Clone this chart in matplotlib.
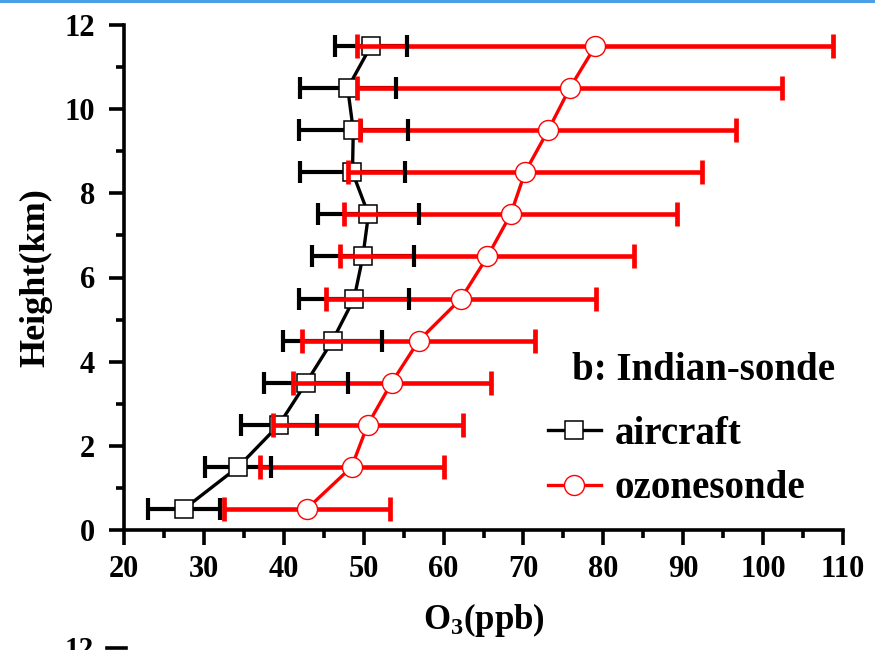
import numpy as np
import matplotlib
matplotlib.use('Agg')
import matplotlib.pyplot as plt
from matplotlib.lines import Line2D
from matplotlib.patches import Rectangle

plt.rcParams['font.family'] = ['Liberation Serif', 'DejaVu Serif']
plt.rcParams['font.weight'] = 'bold'
plt.rcParams['mathtext.fontset'] = 'custom'
plt.rcParams['mathtext.rm'] = 'Liberation Serif:bold'
plt.rcParams['mathtext.bf'] = 'Liberation Serif:bold'

# mean O3 profiles (ppb) with std, per 1 km layer
height = [0.5, 1.5, 2.5, 3.5, 4.5, 5.5, 6.5, 7.5, 8.5, 9.5, 10.5, 11.5]
aircraft = [27.5, 34.3, 39.4, 42.8, 46.1, 48.8, 49.9, 50.6, 48.6, 48.7, 48.0, 50.9]
aircraft_std = [4.5, 4.1, 4.8, 5.3, 6.2, 6.9, 6.4, 6.3, 6.6, 6.8, 6.0, 4.5]
sonde = [42.9, 48.5, 50.5, 53.5, 56.9, 62.2, 65.5, 68.4, 70.2, 73.1, 75.8, 79.0]
sonde_std = [10.4, 11.5, 11.9, 12.4, 14.6, 16.9, 18.4, 20.8, 22.1, 23.5, 26.6, 29.8]

fig = plt.figure(figsize=(8.75, 6.5), dpi=100)
ax = fig.add_axes([124/875, 1-530/650, 719/875, 505/650])

# aircraft error bars
_, caps_a, bars_a = ax.errorbar(aircraft, height, xerr=aircraft_std, fmt='none',
                                ecolor='black', elinewidth=3.0, capsize=8,
                                capthick=3.0, zorder=2)
for b in bars_a:
    b.set_zorder(2)
for c in caps_a:
    c.set_zorder(5)
l_air, = ax.plot(aircraft, height, color='black', lw=2.4, marker='s',
                 markersize=13.5, markerfacecolor='white',
                 markeredgecolor='black', markeredgewidth=1.1, zorder=3,
                 label='aircraft')

# ozonesonde error bars
_, caps_s, bars_s = ax.errorbar(sonde, height, xerr=sonde_std, fmt='none',
                                ecolor='red', elinewidth=3.3, capsize=8.5,
                                capthick=3.4, zorder=4)
for b in bars_s:
    b.set_zorder(4)
for c in caps_s:
    c.set_zorder(4)
l_son, = ax.plot(sonde, height, color='red', lw=2.4, marker='o',
                 markersize=14.4, markerfacecolor='white',
                 markeredgecolor='red', markeredgewidth=1.0, zorder=6,
                 label='ozonesonde')

ax.set_xlim(20, 110)
ax.set_ylim(0, 12)
ax.set_xticks(np.arange(20, 111, 10))
ax.set_xticks(np.arange(25, 110, 10), minor=True)
ax.set_yticks(np.arange(0, 13, 2))
ax.set_yticks(np.arange(1, 12, 2), minor=True)

for s in ['top', 'right']:
    ax.spines[s].set_visible(False)
for s in ['left', 'bottom']:
    ax.spines[s].set_linewidth(2.6)

ax.tick_params(which='major', direction='out', length=11, width=2.6,
               labelsize=22)
ax.tick_params(which='minor', direction='out', length=6, width=2.6)
ax.tick_params(axis='x', which='major', pad=7)
ax.tick_params(axis='y', which='major', pad=10)

ax.set_xlabel(r'$\mathbf{O_3(ppb)}$', fontsize=25)
ax.xaxis.set_label_coords(0.5, -0.14)
ax.set_ylabel('Height(km)', fontsize=26, fontweight='bold')
ax.yaxis.set_label_coords(-0.099, 0.499)

ax.text(0.623, 0.315, 'b: Indian-sonde', transform=ax.transAxes,
        fontsize=28, fontweight='bold', va='center', ha='left')
ax.legend(handles=[l_air, l_son], loc='upper left',
          bbox_to_anchor=(0.59, 0.226), frameon=False, borderpad=0,
          borderaxespad=0, handlelength=1.35, handletextpad=0.35,
          labelspacing=0.45, prop={'size': 28, 'weight': 'bold'})

# strip along the top edge and the start of the panel below
fig.add_artist(Rectangle((0, 1-3/650), 1, 3/650, transform=fig.transFigure,
                         color='#4a9fe6', lw=0))
fig.text(79/875, 1-636/650, '12', ha='center', va='top', fontsize=21,
         fontweight='bold')
fig.add_artist(Line2D([107/875, 126/875], [1-648/650, 1-648/650],
                      transform=fig.transFigure, color='black', lw=2.6))

fig.savefig('out.png', dpi=100)
